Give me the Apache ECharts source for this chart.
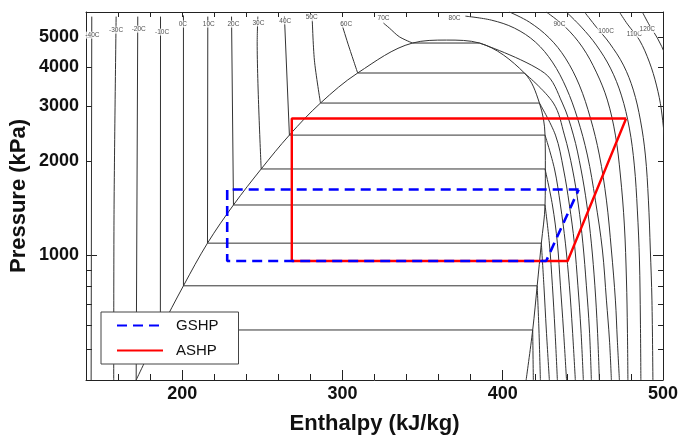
<!DOCTYPE html>
<html><head><meta charset="utf-8">
<script src="https://cdn.jsdelivr.net/npm/echarts@6/dist/echarts.min.js"></script>
<style>html,body{margin:0;padding:0;background:#fff;} #chart{width:678px;height:437px;}</style>
</head><body><div id="chart"></div>
<script>
// ---- axis ticks / labels ----
const enthalpyLabels = [200, 300, 400, 500];
const enthalpyMajorTicks = [200, 300, 400];
const pressureLabels = [1000, 2000, 3000, 4000, 5000];
const pressureMinorTicks = [400, 500, 600, 700, 800, 900, 2000, 3000, 4000, 5000];
const pressureMajorTicks = [1000];

// ---- heat pump cycles (h kJ/kg, P kPa) ----
const gshpH = [447.4, 228.1, 228.1, 427.1, 447.4];
const gshpP = [1625, 1625, 960, 960, 1625];
const ashpH = [477.0, 268.4, 268.4, 440.5, 477.0];
const ashpP = [2740, 2740, 960, 960, 2740];

// ---- saturation dome ----
const domeH = [171.3, 186.4, 200.8, 215.8, 232.0, 249.3, 266.9, 286.3, 309.5, 343.7, 364.9, 385.5, 413.5, 422.9, 426.4, 426.6, 426.4, 424.1, 421.5, 418.7, 414.6];
const domeP = [400, 578, 800, 1095, 1450, 1890, 2425, 3070, 3830, 4775, 4880, 4775, 3830, 3070, 2425, 1890, 1450, 1095, 800, 578, 400];

// ---- isotherms inside the dome (-10C ... 70C) ----
const satP    = [578, 800, 1095, 1450, 1890, 2425, 3070, 3830, 4775];
const satLiqH = [186.4, 200.8, 215.8, 232.0, 249.3, 266.9, 286.3, 309.5, 343.7];
const satVapH = [418.7, 421.5, 424.1, 426.4, 426.4, 426.4, 422.9, 413.5, 385.5];

// ---- liquid-region isotherms [h, P] ----
const liquidM40 = [[143.6, 5800], [143.2, 400]];
const liquidM30 = [[158.8, 5800], [157.5, 1400], [157.3, 400]];
const liquidM20 = [[172.3, 5800], [171.3, 400]];
const liquidM10 = [[186.5, 5800], [186.4, 578]];
const liquid0   = [[200.8, 5850], [200.8, 800]];
const liquid10  = [[216.0, 5800], [215.8, 1095]];
const liquid20  = [[230.8, 5800], [232.0, 1450]];
const liquid30  = [[247.2, 5800], [246.8, 4775], [249.3, 1890]];
const liquid40  = [[263.8, 5800], [266.9, 2425]];
const liquid50  = [[281.1, 5800], [282.5, 4210], [286.3, 3070]];
const liquid60  = [[299.2, 5580], [303.3, 4775], [309.5, 3830]];
const liquid70  = [[325.6, 5530], [329.3, 5330], [335.5, 5000], [343.7, 4775]];

// ---- superheated / supercritical isotherms [h, P] ----
const vaporM10 = [[418.7, 578], [419.1, 400]];
const vapor0   = [[421.5, 800], [422.6, 578], [423.5, 400]];
const vapor10  = [[424.1, 1095], [425.7, 800], [427.2, 578], [429.1, 400]];
const vapor20  = [[426.4, 1450], [429.1, 1095], [431.0, 800], [432.6, 578], [434.1, 400]];
const vapor30  = [[426.4, 1890], [431.0, 1450], [434.1, 1095], [436.0, 800], [437.9, 578], [439.8, 400]];
const vapor40  = [[426.4, 2425], [432.3, 1890], [436.0, 1450], [439.1, 1095], [441.6, 800], [443.5, 578], [445.3, 400]];
const vapor50  = [[422.9, 3070], [432.9, 2425], [437.9, 1890], [441.6, 1450], [444.7, 1095], [446.9, 800], [448.8, 578], [450.3, 400]];
const vapor60  = [[413.5, 3830], [431.6, 3070], [438.5, 2425], [443.5, 1890], [447.2, 1450], [450.0, 1095], [452.2, 800], [454.1, 578], [455.3, 400]];
const vapor70  = [[385.5, 4775], [426.0, 3830], [437.2, 3070], [444.1, 2425], [448.8, 1890], [452.5, 1450], [455.3, 1095], [457.5, 800], [459.1, 578], [460.3, 400]];
const vapor80  = [[376.7, 5820], [392.9, 5652], [407.3, 5330], [420.4, 4809], [431.0, 4150], [439.7, 3427], [446.6, 2750], [452.8, 2094], [457.8, 1503], [462.2, 1041], [464.7, 720], [466.6, 537], [467.8, 400]];
const vapor85  = [[404.2, 6000], [416.6, 5571], [429.1, 4953], [439.1, 4274], [447.8, 3504], [454.7, 2750], [460.3, 2094], [464.7, 1503], [467.8, 1041], [470.3, 720], [471.5, 537], [472.8, 400]];
const vapor90  = [[427.2, 6000], [439.1, 5369], [449.7, 4633], [458.4, 3855], [465.3, 3138], [470.3, 2425], [473.4, 1808], [475.9, 1251], [477.2, 835], [477.8, 578], [478.1, 400]];
const vapor95  = [[439.7, 6000], [449.1, 5369], [458.4, 4703], [467.2, 3971], [474.0, 3255], [479.0, 2554], [482.1, 1945], [484.0, 1397], [485.3, 967], [485.9, 622], [486.2, 400]];
const vapor100 = [[451.0, 6000], [458.4, 5369], [466.6, 4773], [475.3, 4059], [481.5, 3377], [485.9, 2708], [489.0, 2094], [490.9, 1503], [492.1, 1041], [493.1, 720], [493.7, 400]];
const vapor110 = [[472.8, 6000], [477.8, 5488], [485.3, 4880], [491.5, 4150], [495.9, 3504], [499.0, 2916], [501.5, 2172], [503.4, 1503], [504.6, 967], [505.3, 400]];
const vapor120 = [[487.1, 6000], [491.5, 5448], [496.5, 4953], [501.5, 4370], [505.2, 3771], [507.7, 3138], [510.2, 2172], [512.1, 400]];

// ---- isotherm labels ----
const tempNames  = ['-40C', '-30C', '-20C', '-10C', '0C', '10C', '20C', '30C', '40C', '50C', '60C', '70C', '80C', '90C', '100C', '110C', '120C'];
const tempLabelH = [144.0, 158.8, 172.9, 187.5, 200.4, 216.6, 232.0, 247.6, 264.3, 280.8, 302.3, 325.6, 369.9, 435.4, 464.5, 482.1, 490.2];
const tempLabelP = [5060, 5250, 5290, 5175, 5490, 5490, 5490, 5540, 5620, 5765, 5490, 5735, 5735, 5490, 5225, 5100, 5275];

const liquidLines = [liquidM40, liquidM30, liquidM20, liquidM10, liquid0, liquid10, liquid20, liquid30, liquid40, liquid50, liquid60, liquid70];
const vaporLines = [vaporM10, vapor0, vapor10, vapor20, vapor30, vapor40, vapor50, vapor60, vapor70, vapor80, vapor85, vapor90, vapor95, vapor100, vapor110, vapor120];

const FONT = 'Liberation Sans, Arial, sans-serif';
const ink = '#333';
function thin(data, smooth) {
  return { type: 'line', data: data, symbol: 'none', smooth: smooth, silent: true, z: 2,
    lineStyle: { color: ink, width: 1 }, xAxisIndex: 0, yAxisIndex: 0 };
}
const series = [];
series.push(thin(domeH.map((h, i) => [h, domeP[i]]), 0.35));
liquidLines.forEach(l => series.push(thin(l, l.length > 2 ? 0.3 : 0)));
satP.forEach((p, i) => series.push(thin([[satLiqH[i], p], [satVapH[i], p]], 0)));
vaporLines.forEach(l => series.push(thin(l, 0.35)));
series.push({
  type: 'scatter', silent: true, z: 3, symbolSize: 1,
  itemStyle: { color: 'transparent' },
  data: tempNames.map((n, i) => ({ name: n, value: [tempLabelH[i], tempLabelP[i]] })),
  label: { show: true, position: 'inside', formatter: '{b}', fontSize: 6.5, fontFamily: FONT,
    color: '#222', backgroundColor: '#fff', padding: [0, 1] }
});
series.push({ name: 'ASHP', type: 'line', z: 4, symbol: 'none', data: ashpH.map((h, i) => [h, ashpP[i]]),
  lineStyle: { color: '#ff0000', width: 2.4 }, itemStyle: { color: '#ff0000' } });
series.push({ name: 'GSHP', type: 'line', z: 5, symbol: 'none', data: gshpH.map((h, i) => [h, gshpP[i]]),
  lineStyle: { color: '#0000ff', width: 2.6, type: [10, 6] }, itemStyle: { color: '#0000ff' } });

const lgMin = Math.log10(400), lgMax = Math.log10(6000);
const frame = { show: true, lineStyle: { color: '#222', width: 1 } };
const tickStyle = { color: '#222', width: 1 };
const tickFont = { fontSize: 18, fontWeight: 'bold', color: '#111', fontFamily: FONT };
const titleFont = { fontSize: 22, fontWeight: 'bold', color: '#111', fontFamily: FONT };

const option = {
  animation: false,
  backgroundColor: '#fff',
  textStyle: { fontFamily: FONT },
  grid: { left: 86, right: 15, top: 12, bottom: 57, outerBoundsMode: 'none', containLabel: false },
  legend: {
    data: ['GSHP', 'ASHP'], orient: 'vertical', left: 101, top: 312,
    padding: [6, 20, 6, 15], itemGap: 10, itemWidth: 46, itemHeight: 14,
    backgroundColor: '#fff', borderColor: '#444', borderWidth: 1, borderRadius: 0,
    itemStyle: { opacity: 0 },
    textStyle: { fontSize: 15, fontFamily: FONT, color: '#111', padding: [0, 0, 0, 8] }
  },
  xAxis: [
    { type: 'value', position: 'bottom', min: 140, max: 500,
      axisLine: frame, splitLine: { show: false },
      axisTick: { show: true, inside: true, length: 10, customValues: enthalpyMajorTicks, lineStyle: tickStyle },
      axisLabel: Object.assign({ customValues: enthalpyLabels, margin: 5 }, tickFont),
      name: 'Enthalpy (kJ/kg)', nameLocation: 'middle', nameGap: 33, nameTextStyle: titleFont },
    { type: 'value', position: 'bottom', min: 140, max: 500, interval: 20,
      axisLine: { show: false }, splitLine: { show: false }, axisLabel: { show: false },
      axisTick: { show: true, inside: true, length: 6, lineStyle: tickStyle } },
    { type: 'value', position: 'top', min: 140, max: 500, interval: 20,
      axisLine: frame, splitLine: { show: false }, axisLabel: { show: false },
      axisTick: { show: true, inside: true, length: 5, lineStyle: tickStyle } }
  ],
  yAxis: [
    { type: 'log', logBase: 10, min: 400, max: 6000, position: 'left',
      axisLine: { show: false }, axisTick: { show: false }, axisLabel: { show: false }, splitLine: { show: false },
      name: 'Pressure (kPa)', nameLocation: 'middle', nameGap: 56, nameRotate: 90, nameTextStyle: titleFont },
    { type: 'value', position: 'left', min: lgMin, max: lgMax,
      axisLine: frame, splitLine: { show: false },
      axisTick: { show: true, inside: true, length: 6, customValues: pressureMinorTicks.map(Math.log10), lineStyle: tickStyle },
      axisLabel: Object.assign({ customValues: pressureLabels.map(Math.log10),
        formatter: v => String(Math.round(Math.pow(10, v))), margin: 7 }, tickFont) },
    { type: 'value', position: 'left', min: lgMin, max: lgMax,
      axisLine: { show: false }, splitLine: { show: false }, axisLabel: { show: false },
      axisTick: { show: true, inside: true, length: 11, customValues: pressureMajorTicks.map(Math.log10), lineStyle: tickStyle } },
    { type: 'value', position: 'right', min: lgMin, max: lgMax,
      axisLine: frame, splitLine: { show: false }, axisLabel: { show: false },
      axisTick: { show: true, inside: true, length: 5, customValues: pressureMinorTicks.map(Math.log10), lineStyle: tickStyle } },
    { type: 'value', position: 'right', min: lgMin, max: lgMax,
      axisLine: { show: false }, splitLine: { show: false }, axisLabel: { show: false },
      axisTick: { show: true, inside: true, length: 10, customValues: pressureMajorTicks.map(Math.log10), lineStyle: tickStyle } }
  ],
  series: series
};
const chart = echarts.init(document.getElementById('chart'), null, { renderer: 'canvas' });
chart.setOption(option);
</script></body></html>
